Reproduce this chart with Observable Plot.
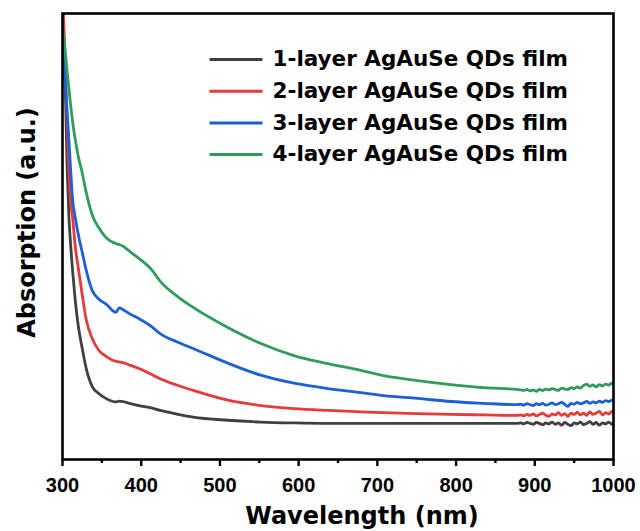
<!DOCTYPE html>
<html>
<head>
<meta charset="utf-8">
<script src="https://cdn.jsdelivr.net/npm/d3@7"></script>
<script src="https://cdn.jsdelivr.net/npm/@observablehq/plot@0.6"></script>
<style>
  html, body { margin: 0; padding: 0; background: #fff; }
  svg { display: block; }
</style>
</head>
<body>
<div id="chart"></div>
<script>
// Wavelength grid (nm)
const wavelength = [300, 302, 304, 306, 308, 310, 313, 316, 320, 325, 330, 338, 346, 355, 368, 372, 377, 385, 397, 414, 424, 445, 466, 510, 552, 594, 637, 679, 708, 751, 793, 835, 878,
  882, 886, 890, 894, 898, 902, 906, 910, 914, 918, 922, 926, 930, 934, 938, 942, 946, 950, 954, 958, 962, 966, 970, 974, 978, 982, 986, 990, 994, 998, 1000];

const layer1 = [1.05, 0.92, 0.80, 0.65, 0.55, 0.49, 0.42, 0.36, 0.30, 0.25, 0.205, 0.163, 0.148, 0.137, 0.129, 0.131, 0.130, 0.126, 0.121, 0.115, 0.110, 0.102, 0.095, 0.088, 0.084, 0.082, 0.081, 0.081, 0.081, 0.081, 0.081, 0.081, 0.081,
  0.082, 0.080, 0.083, 0.081, 0.079, 0.083, 0.081, 0.078, 0.082, 0.080, 0.084, 0.079, 0.082, 0.077, 0.083, 0.079, 0.076, 0.082, 0.080, 0.084, 0.078, 0.081, 0.085, 0.079, 0.083, 0.077, 0.082, 0.080, 0.084, 0.079, 0.082, 0.083];

const layer2 = [1.06, 0.96, 0.86, 0.76, 0.66, 0.585, 0.54, 0.48, 0.43, 0.37, 0.315, 0.27, 0.245, 0.232, 0.220, 0.219, 0.217, 0.212, 0.204, 0.190, 0.181, 0.167, 0.155, 0.133, 0.121, 0.114, 0.110, 0.107, 0.105, 0.103, 0.101, 0.100, 0.099,
  0.100, 0.098, 0.101, 0.099, 0.102, 0.098, 0.101, 0.104, 0.099, 0.097, 0.102, 0.100, 0.105, 0.099, 0.103, 0.097, 0.104, 0.101, 0.106, 0.100, 0.104, 0.099, 0.107, 0.101, 0.104, 0.108, 0.100, 0.105, 0.102, 0.108, 0.104, 0.105];

const layer3 = [0.95, 0.89, 0.83, 0.775, 0.72, 0.66, 0.58, 0.545, 0.505, 0.465, 0.425, 0.378, 0.36, 0.349, 0.330, 0.340, 0.336, 0.327, 0.316, 0.297, 0.282, 0.264, 0.249, 0.216, 0.189, 0.171, 0.159, 0.150, 0.143, 0.137, 0.130, 0.126, 0.123,
  0.124, 0.122, 0.125, 0.123, 0.121, 0.125, 0.123, 0.126, 0.122, 0.124, 0.127, 0.123, 0.125, 0.128, 0.124, 0.119, 0.126, 0.124, 0.128, 0.125, 0.127, 0.130, 0.126, 0.129, 0.127, 0.131, 0.128, 0.132, 0.130, 0.133, 0.131, 0.135];

const layer4 = [0.966, 0.94, 0.905, 0.868, 0.835, 0.80, 0.755, 0.72, 0.68, 0.643, 0.60, 0.547, 0.520, 0.498, 0.484, 0.482, 0.478, 0.467, 0.451, 0.424, 0.400, 0.367, 0.341, 0.296, 0.260, 0.233, 0.215, 0.200, 0.188, 0.177, 0.168, 0.161, 0.157,
  0.156, 0.155, 0.157, 0.154, 0.156, 0.153, 0.157, 0.155, 0.158, 0.156, 0.159, 0.157, 0.155, 0.160, 0.158, 0.157, 0.161, 0.159, 0.163, 0.160, 0.166, 0.169, 0.164, 0.167, 0.163, 0.168, 0.165, 0.169, 0.167, 0.171, 0.169, 0.172];

const seriesNames = ["1-layer AgAuSe QDs film", "2-layer AgAuSe QDs film", "3-layer AgAuSe QDs film", "4-layer AgAuSe QDs film"];
const seriesValues = [layer1, layer2, layer3, layer4];
const seriesColors = ["#404040", "#e8393b", "#1d5fd4", "#2e9d5c"];

const majorTicks = [300, 400, 500, 600, 700, 800, 900, 1000];
const minorTicks = [350, 450, 550, 650, 750, 850, 950];

// Layout
const W = 640, H = 531;
const mL = 62, mR = 27, mT = 13, mB = 72;
const xDomain = [300, 1000], yDomain = [0, 1];
const pxToX = px => xDomain[0] + (px - mL) / (W - mL - mR) * (xDomain[1] - xDomain[0]);
const pxToY = py => yDomain[0] + (H - mB - py) / (H - mT - mB) * (yDomain[1] - yDomain[0]);

const rows = [];
seriesNames.forEach((name, s) => {
  wavelength.forEach((w, i) => rows.push({series: name, wl: w, a: seriesValues[s][i]}));
});

const legend = seriesNames.map((name, i) => ({
  name,
  x1: pxToX(209), x2: pxToX(262), xt: pxToX(272),
  y: pxToY(59 + i * 31.7)
}));

const plot = Plot.plot({
  width: W, height: H,
  marginLeft: mL, marginRight: mR, marginTop: mT, marginBottom: mB,
  style: {background: "#fff", fontFamily: "'Liberation Sans', Arial, sans-serif"},
  x: {domain: xDomain},
  y: {domain: yDomain},
  color: {domain: seriesNames, range: seriesColors},
  marks: [
    Plot.line(rows, {x: "wl", y: "a", z: "series", stroke: "series", strokeWidth: 2.8, clip: true, curve: "monotone-x"}),
    Plot.frame({stroke: "#000", strokeWidth: 2.6}),
    Plot.axisX(minorTicks, {tickSize: 4, strokeWidth: 2.4, text: null, stroke: "#000"}),
    Plot.axisX(majorTicks, {tickSize: 7, strokeWidth: 2.4, tickPadding: 11, fontSize: 20, fontWeight: "bold", fill: "#000", stroke: "#000", label: null, tickFormat: d => String(d)}),
    Plot.axisY({ticks: [], label: null}),
    Plot.text(["Wavelength (nm)"], {frameAnchor: "bottom", dx: 24, dy: 57, textAnchor: "middle", lineAnchor: "middle", fontSize: 24, fontWeight: "bold", fontFamily: "'DejaVu Sans', sans-serif", fill: "#000"}),
    Plot.text(["Absorption (a.u.)"], {frameAnchor: "left", rotate: -90, dx: -35, dy: -14, textAnchor: "middle", lineAnchor: "middle", fontSize: 24, fontWeight: "bold", fontFamily: "'DejaVu Sans', sans-serif", fill: "#000"}),
    Plot.link(legend, {x1: "x1", x2: "x2", y1: "y", y2: "y", stroke: "name", strokeWidth: 3}),
    Plot.text(legend, {x: "xt", y: "y", text: "name", textAnchor: "start", lineAnchor: "middle", fontSize: 21.5, fontWeight: "bold", fontFamily: "'DejaVu Sans', sans-serif", fill: "#000"})
  ]
});

document.getElementById("chart").appendChild(plot);
</script>
</body>
</html>
